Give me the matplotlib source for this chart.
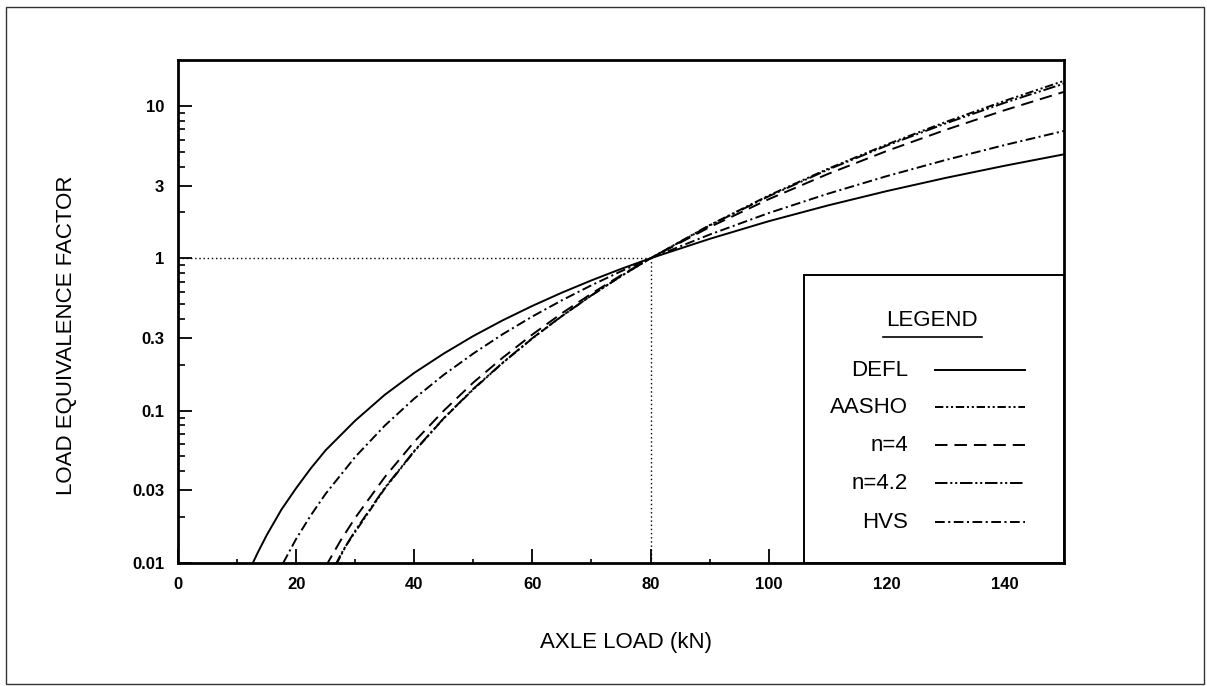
import numpy as np
import matplotlib
matplotlib.use('Agg')
import matplotlib.pyplot as plt
from matplotlib.patches import Rectangle
from matplotlib.ticker import FixedLocator, NullFormatter

plt.rcParams['font.family'] = ['Liberation Sans', 'DejaVu Sans']
plt.rcParams['lines.scale_dashes'] = False

# 轴载 (kN) 与荷载当量系数
load_defl = [12.5, 13.5, 15, 17.5, 20, 22.5, 25, 30, 35, 40, 45, 50, 55, 60, 65, 70, 75, 80,
             90, 100, 110, 120, 130, 140, 150]
lef_defl = [0.0097, 0.0117, 0.0152, 0.0224, 0.031, 0.0419, 0.055, 0.086, 0.127, 0.177, 0.237, 0.309,
            0.392, 0.487, 0.595, 0.716, 0.851, 1.0, 1.34, 1.75, 2.22, 2.76, 3.37, 4.05, 4.81]

load_hvs = [17.8, 20, 22.5, 25, 30, 35, 40, 45, 50, 55, 60, 65, 70, 75, 80, 90, 100, 110, 120, 130, 140, 150]
lef_hvs = [0.01, 0.0144, 0.0206, 0.0285, 0.0497, 0.0797, 0.120, 0.172, 0.237, 0.318, 0.415, 0.530, 0.665,
           0.821, 1.0, 1.43, 1.98, 2.65, 3.46, 4.42, 5.54, 6.85]

load_n4 = [25, 27.5, 30, 35, 40, 45, 50, 55, 60, 65, 70, 75, 80, 90, 100, 110, 120, 130, 140, 150]
lef_n4 = [0.0095, 0.0140, 0.0198, 0.0366, 0.0625, 0.100, 0.153, 0.223, 0.316, 0.436, 0.586, 0.773,
          1.0, 1.60, 2.44, 3.57, 5.06, 6.97, 9.38, 12.36]

load_n42 = [26.5, 28, 30, 35, 40, 45, 50, 55, 60, 65, 70, 75, 80, 90, 100, 110, 120, 130, 140, 150]
lef_n42 = [0.0095, 0.0122, 0.0163, 0.0311, 0.0544, 0.0892, 0.139, 0.207, 0.299, 0.418, 0.571, 0.763,
           1.0, 1.64, 2.55, 3.81, 5.49, 7.68, 10.5, 14.0]

load_aasho = [26.8, 28.5, 30, 35, 40, 45, 50, 55, 60, 65, 70, 75, 80, 90, 100, 110, 120, 130, 140, 150]
lef_aasho = [0.0098, 0.0131, 0.0160, 0.0308, 0.0540, 0.0890, 0.138, 0.206, 0.298, 0.417, 0.570, 0.763,
             1.0, 1.65, 2.58, 3.86, 5.58, 7.85, 10.8, 14.6]

x_ticks = [0, 20, 40, 60, 80, 100, 120, 140]
y_ticks = [0.01, 0.03, 0.1, 0.3, 1, 3, 10]
y_tick_labels = ['0.01', '0.03', '0.1', '0.3', '1', '3', '10']

# 线型
st_defl = '-'
st_aasho = (0, (6, 2, 1.5, 2, 1.5, 2))
st_n4 = (0, (9, 5))
st_n42 = (0, (9, 2, 1.5, 2, 1.5, 2))
st_hvs = (0, (7, 2.5, 1.5, 2.5))

fig = plt.figure(figsize=(12.07, 6.86), dpi=100)
ax = fig.add_axes([0.1475, 0.1793, 0.734, 0.7332])

lw = 1.4
ax.plot(load_defl, lef_defl, color='black', lw=lw, linestyle=st_defl)
ax.plot(load_aasho, lef_aasho, color='black', lw=lw, linestyle=st_aasho)
ax.plot(load_n4, lef_n4, color='black', lw=lw, linestyle=st_n4)
ax.plot(load_n42, lef_n42, color='black', lw=lw, linestyle=st_n42)
ax.plot(load_hvs, lef_hvs, color='black', lw=lw, linestyle=st_hvs)

# 参考虚线 (80 kN, 1)
ax.plot([0, 80], [1, 1], color='black', lw=1.0, linestyle=(0, (1, 2)))
ax.plot([80, 80], [0.01, 1], color='black', lw=1.0, linestyle=(0, (1, 2)))

ax.set_yscale('log')
ax.set_xlim(0, 150)
ax.set_ylim(0.01, 20)

ax.set_xticks(x_ticks)
ax.set_xticklabels([str(v) for v in x_ticks], fontweight='bold', fontsize=12)
ax.xaxis.set_minor_locator(FixedLocator([10, 30, 50, 70, 90, 110, 130]))
ax.set_yticks(y_ticks)
ax.set_yticklabels(y_tick_labels, fontweight='bold', fontsize=12)
minors = [m * d for d in [0.01, 0.1, 1, 10] for m in [2, 4, 5, 6, 7, 8, 9] if m * d < 20]
ax.yaxis.set_minor_locator(FixedLocator(minors))
ax.yaxis.set_minor_formatter(NullFormatter())

ax.tick_params(which='major', direction='in', length=10, width=1.3, pad=10, top=False, right=False)
ax.tick_params(which='minor', direction='in', length=5, width=1.2, top=False, right=False)
ax.tick_params(axis='x', which='minor', length=3)
for sp in ax.spines.values():
    sp.set_linewidth(2.0)

ax.set_xlabel('AXLE LOAD (kN)', fontsize=16)
ax.set_ylabel('LOAD EQUIVALENCE FACTOR', fontsize=16)
ax.xaxis.set_label_coords(0.5056, -0.137)
ax.yaxis.set_label_coords(-0.114, 0.453)

# 图例框
ax.add_patch(Rectangle((0.7065, 0), 0.2935, 0.5726, transform=ax.transAxes,
                       facecolor='white', edgecolor='black', lw=1.4, zorder=5))
ax.text(0.851, 0.483, 'LEGEND', transform=ax.transAxes, ha='center', va='center', fontsize=16, zorder=6)
ax.plot([0.7957, 0.9074], [0.449, 0.449], transform=ax.transAxes, color='black', lw=1.2, zorder=6)

names = ['DEFL', 'AASHO', 'n=4', 'n=4.2', 'HVS']
styles = [st_defl, st_aasho, st_n4, st_n42, st_hvs]
ys = [0.3837, 0.310, 0.2346, 0.159, 0.0815]
for name, st, yy in zip(names, styles, ys):
    ax.text(0.824, yy, name, transform=ax.transAxes, ha='right', va='center', fontsize=16, zorder=6)
    ax.plot([0.8544, 0.956], [yy, yy], transform=ax.transAxes, color='black', lw=lw,
            linestyle=st, zorder=6)

# 外框
fig.add_artist(Rectangle((6 / 1207, 2 / 686), 1198 / 1207, 677 / 686, transform=fig.transFigure,
                         facecolor='none', edgecolor='#333333', lw=1.0))

fig.savefig('out.png', dpi=100)
